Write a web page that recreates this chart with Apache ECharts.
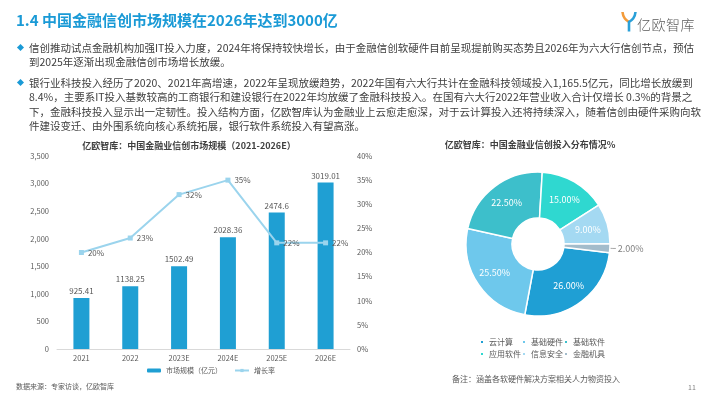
<!DOCTYPE html>
<html>
<head>
<meta charset="utf-8">
<script src="https://cdn.jsdelivr.net/npm/echarts@6/dist/echarts.min.js"></script>
<style>
body { margin: 0; }
#page { position: relative; width: 710px; height: 399px; background: #fff; overflow: hidden;
  font-family: "Noto Sans CJK SC", sans-serif; color: #404040; }
#chart { position: absolute; left: 0; top: 0; width: 710px; height: 399px; }
.t { position: absolute; white-space: nowrap; }
.head { left: 16px; top: 10px; font-size: 15px; font-weight: bold; color: #1a9ad6; line-height: 20px; }
.logo { left: 637px; top: 15px; font-size: 14px; font-weight: 300; color: #595959; line-height: 18px; letter-spacing: 0.5px; }
.ln { font-size: 10.5px; line-height: 14px; height: 14px; left: 29px; }
.j { width: 662px; text-align: justify; text-align-last: justify; }
.dot { position: absolute; width: 5px; height: 5px; background: #1a9ad6; transform: rotate(45deg); }
.small { font-size: 7px; color: #595959; line-height: 10px; }
</style>
</head>
<body>
<div id="page">
  <div id="chart"></div>

  <div class="t head">1.4 中国金融信创市场规模在2026年达到3000亿</div>
  <svg class="t" style="left:621px;top:11px" width="16" height="21" viewBox="0 0 16 21">
    <path d="M1.5 1 C2 7 5 9 8 11" stroke="#f39b3a" stroke-width="2.6" fill="none"/>
    <path d="M14.5 1 C14 7 11 9 8 11 L8 20.5" stroke="#2aa0d8" stroke-width="2.6" fill="none"/>
  </svg>
  <div class="t logo">亿欧智库</div>

  <div class="dot" style="left:18px;top:45px"></div>
  <div class="t ln j" style="top:41px">信创推动试点金融机构加强IT投入力度，2024年将保持较快增长，由于金融信创软硬件目前呈现提前购买态势且2026年为六大行信创节点，预估</div>
  <div class="t ln" style="top:55px">到2025年逐渐出现金融信创市场增长放缓。</div>

  <div class="dot" style="left:18px;top:80px"></div>
  <div class="t ln j" style="top:76px;width:659px">银行业科技投入经历了2020、2021年高增速，2022年呈现放缓趋势，2022年国有六大行共计在金融科技领域投入1,165.5亿元，同比增长放缓到</div>
  <div class="t ln j" style="top:90.3px;width:656px">8.4%，主要系IT投入基数较高的工商银行和建设银行在2022年均放缓了金融科技投入。在国有六大行2022年营业收入合计仅增长 0.3%的背景之</div>
  <div class="t ln j" style="top:104.6px;width:659px">下，金融科技投入显示出一定韧性。投入结构方面，亿欧智库认为金融业上云愈走愈深，对于云计算投入还将持续深入，随着信创由硬件采购向软</div>
  <div class="t ln" style="top:118.9px">件建设变迁、由外围系统向核心系统拓展，银行软件系统投入有望高涨。</div>

  <div class="t small" style="left:16px;top:381px">数据来源：专家访谈，亿欧智库</div>
  <div class="t small" style="left:452px;top:374px;font-size:8px">备注：涵盖各软硬件解决方案相关人力物资投入</div>
  <div class="t small" style="left:688px;top:382px;color:#7f7f7f">11</div>
</div>

<script>
// 左图：市场规模与增长率
const years = ['2021', '2022', '2023E', '2024E', '2025E', '2026E'];
const marketSize = [925.41, 1138.25, 1502.49, 2028.36, 2474.6, 3019.01];
const growthRate = [20, 23, 32, 35, 22, 22];
const sizeAxis = [0, 3500, 500];   // min, max, interval
const rateAxis = [0, 40, 5];

// 右图：投入分布
const segments = ['云计算', '基础硬件', '基础软件', '应用软件', '信息安全', '金融机具'];
const shares = [26, 25.5, 22.5, 15, 9, 2];
const segColors = ['#1f9fd4', '#6ec8ec', '#3dbfcb', '#2fd8d0', '#a4d9f2', '#a3bccb'];

const labelGray = '#595959';

const pieData = segments.map((name, i) => {
  const item = { name, value: shares[i], itemStyle: { color: segColors[i] } };
  if (shares[i] < 5) {
    item.label = { position: 'outside', color: '#7f7f7f', fontSize: 9, distanceToLabelLine: 2 };
    item.labelLine = { show: true, length: 3, length2: 3, lineStyle: { color: '#a6a6a6' } };
  }
  return item;
});

// 图例按列排：每列两个（上下两行）
const pieLegendCol = (col, left) => ({
  data: [segments[col], segments[col + 3]], icon: 'rect', orient: 'vertical',
  left, top: 338, padding: 0,
  itemWidth: 4, itemHeight: 4, itemGap: 4,
  textStyle: { fontSize: 8, color: labelGray }
});

const chart = echarts.init(document.getElementById('chart'));
chart.setOption({
  animation: false,
  textStyle: { fontFamily: '"Noto Sans CJK SC", sans-serif' },
  title: [
    {
      text: '亿欧智库：中国金融业信创市场规模（2021-2026E）',
      left: 189, top: 141, textAlign: 'center', padding: 0,
      textStyle: { fontSize: 9, fontWeight: 'bold', color: '#404040' }
    },
    {
      text: '亿欧智库：中国金融业信创投入分布情况%',
      left: 530, top: 140, textAlign: 'center', padding: 0,
      textStyle: { fontSize: 9, fontWeight: 'bold', color: '#404040' }
    }
  ],
  legend: [
    {
      data: ['市场规模（亿元）', '增长率'],
      left: 147, top: 367, padding: 0,
      itemWidth: 14, itemHeight: 4, itemGap: 12,
      textStyle: { fontSize: 7, color: labelGray }
    },
    pieLegendCol(0, 479),
    pieLegendCol(1, 521),
    pieLegendCol(2, 563)
  ],
  grid: { left: 57, right: 360, top: 156, bottom: 50 },
  xAxis: {
    type: 'category', data: years,
    axisLine: { lineStyle: { color: '#d9d9d9' } },
    axisTick: { show: false },
    axisLabel: { color: labelGray, fontSize: 7.5, margin: 5 }
  },
  yAxis: [
    {
      type: 'value', min: sizeAxis[0], max: sizeAxis[1], interval: sizeAxis[2],
      axisLine: { show: false }, axisTick: { show: false }, splitLine: { show: false },
      axisLabel: { color: labelGray, fontSize: 7.5, margin: 8 }
    },
    {
      type: 'value', position: 'right', min: rateAxis[0], max: rateAxis[1], interval: rateAxis[2],
      axisLine: { show: false }, axisTick: { show: false }, splitLine: { show: false },
      axisLabel: { color: labelGray, fontSize: 7.5, margin: 7, formatter: '{value}%' }
    }
  ],
  series: [
    {
      name: '市场规模（亿元）', type: 'bar', data: marketSize, barWidth: 16,
      itemStyle: { color: '#1f9fd3' },
      label: { show: true, position: 'top', distance: 3, fontSize: 8, color: labelGray }
    },
    {
      name: '增长率', type: 'line', yAxisIndex: 1, data: growthRate,
      symbol: 'rect', symbolSize: 5, z: 3,
      itemStyle: { color: '#9bd4ed' },
      lineStyle: { color: '#9bd4ed', width: 2 },
      label: { show: true, position: 'right', distance: 4, fontSize: 8, color: labelGray, formatter: '{c}%' }
    },
    {
      name: '投入分布', type: 'pie',
      center: [538, 244], radius: [26, 72],
      startAngle: -7, clockwise: true, avoidLabelOverlap: false,
      itemStyle: { borderColor: '#fff', borderWidth: 1.5 },
      label: {
        position: 'inside', fontSize: 9, color: '#fff',
        formatter: p => p.value.toFixed(2) + '%'
      },
      labelLine: { show: false },
      data: pieData
    }
  ]
});
</script>
</body>
</html>
